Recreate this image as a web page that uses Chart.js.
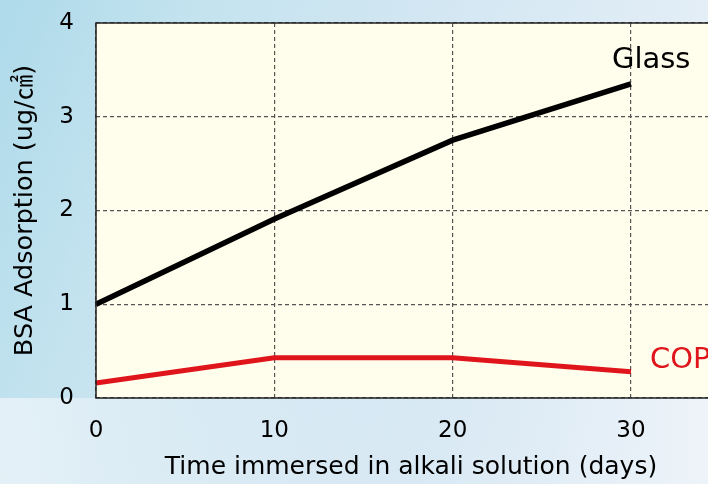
<!DOCTYPE html>
<html><head><meta charset="utf-8">
<script src="https://cdn.jsdelivr.net/npm/chart.js@4/dist/chart.umd.min.js"></script>
<style>html,body{margin:0;padding:0;overflow:hidden;background:#fff}canvas{display:block}</style>
</head><body>
<canvas id="c" width="708" height="484"></canvas>
<script>
const days = [0, 10, 20, 30];
const glass = [1.0, 1.91, 2.75, 3.35];
const cop = [0.16, 0.43, 0.43, 0.28];
const xTicks = [0, 10, 20, 30];
const yTicks = [0, 1, 2, 3, 4];
const seriesNames = ['Glass', 'COP'];
const xTitle = 'Time immersed in alkali solution (days)';
const yTitle = 'BSA Adsorption (ug/㎠)';

const FONT = '"DejaVu Sans", "Noto Sans CJK JP", sans-serif';

const bgPlugin = {
  id: 'bg',
  beforeDraw(chart) {
    const {ctx, chartArea: a, width, height} = chart;
    ctx.save();
    let g = ctx.createLinearGradient(0, 0, width, height * 0.6);
    g.addColorStop(0, '#aedaea');
    g.addColorStop(0.25, '#c4e3ef');
    g.addColorStop(0.6, '#d6e8f3');
    g.addColorStop(1, '#eaf1f8');
    ctx.fillStyle = g;
    ctx.fillRect(0, 0, width, height);
    let g2 = ctx.createLinearGradient(0, 0, width, 0);
    g2.addColorStop(0, 'rgba(240,245,250,0.75)');
    g2.addColorStop(0.3, 'rgba(240,245,250,0.3)');
    g2.addColorStop(0.6, 'rgba(200,225,240,0.2)');
    g2.addColorStop(1, 'rgba(240,245,250,0.5)');
    ctx.fillStyle = g2;
    ctx.fillRect(0, a.bottom, width, height - a.bottom);
    ctx.fillStyle = '#fffdec';
    ctx.fillRect(a.left, a.top, a.right - a.left, a.bottom - a.top);
    ctx.restore();
  },
  afterDatasetsDraw(chart) {
    const {ctx, chartArea: a} = chart;
    ctx.save();
    ctx.strokeStyle = '#222';
    ctx.lineWidth = 1.5;
    ctx.beginPath();
    ctx.moveTo(a.right + 2, a.top);
    ctx.lineTo(a.left, a.top);
    ctx.lineTo(a.left, a.bottom);
    ctx.lineTo(a.right + 2, a.bottom);
    ctx.stroke();
    const xs = chart.scales.x, ys = chart.scales.y;
    ctx.font = '29px ' + FONT;
    ctx.textBaseline = 'middle';
    ctx.textAlign = 'left';
    ctx.fillStyle = '#000';
    ctx.fillText(seriesNames[0], xs.getPixelForValue(30) - 19, ys.getPixelForValue(3.6));
    ctx.fillStyle = '#e0151c';
    ctx.fillText(seriesNames[1], xs.getPixelForValue(30) + 19, ys.getPixelForValue(0.4));
    ctx.font = '25px ' + FONT;
    ctx.fillStyle = '#000';
    ctx.textAlign = 'center';
    ctx.fillText(xTitle, 411, 467);
    ctx.restore();
  }
};

new Chart(document.getElementById('c'), {
  type: 'line',
  data: {
    labels: days,
    datasets: [
      {label: seriesNames[0], data: days.map((d, i) => ({x: d, y: glass[i]})), borderColor: '#000', borderWidth: 5.5, pointRadius: 0, tension: 0, clip: false},
      {label: seriesNames[1], data: days.map((d, i) => ({x: d, y: cop[i]})), borderColor: '#e0151c', borderWidth: 5, pointRadius: 0, tension: 0, clip: false}
    ]
  },
  options: {
    responsive: false,
    animation: false,
    layout: {padding: {top: 23, right: 0, left: 0, bottom: 0}},
    plugins: {legend: {display: false}, tooltip: {enabled: false}},
    scales: {
      x: {
        type: 'linear', min: 0, max: 34.32,
        afterBuildTicks: s => { s.ticks = xTicks.map(v => ({value: v})); },
        afterFit: s => { s.height = 86; s.paddingLeft = 0; s.paddingRight = 0; },
        grid: {color: '#555', lineWidth: 1.2, drawTicks: false},
        border: {display: false, dash: [4, 3]},
        ticks: {color: '#000', font: {family: FONT, size: 23}, padding: 19, maxRotation: 0},
        title: {display: false, text: xTitle}
      },
      y: {
        min: 0, max: 4,
        afterBuildTicks: s => { s.ticks = yTicks.map(v => ({value: v})); },
        afterFit: s => { s.width = 96; s.paddingTop = 0; s.paddingBottom = 0; },
        grid: {color: '#555', lineWidth: 1.2, drawTicks: false},
        border: {display: false, dash: [4, 3]},
        ticks: {color: '#000', font: {family: FONT, size: 23}, padding: 22},
        title: {display: true, text: yTitle, color: '#000', font: {family: FONT, size: 25.5}, padding: {top: 10, bottom: 0}}
      }
    }
  },
  plugins: [bgPlugin]
});
</script>
</body></html>
